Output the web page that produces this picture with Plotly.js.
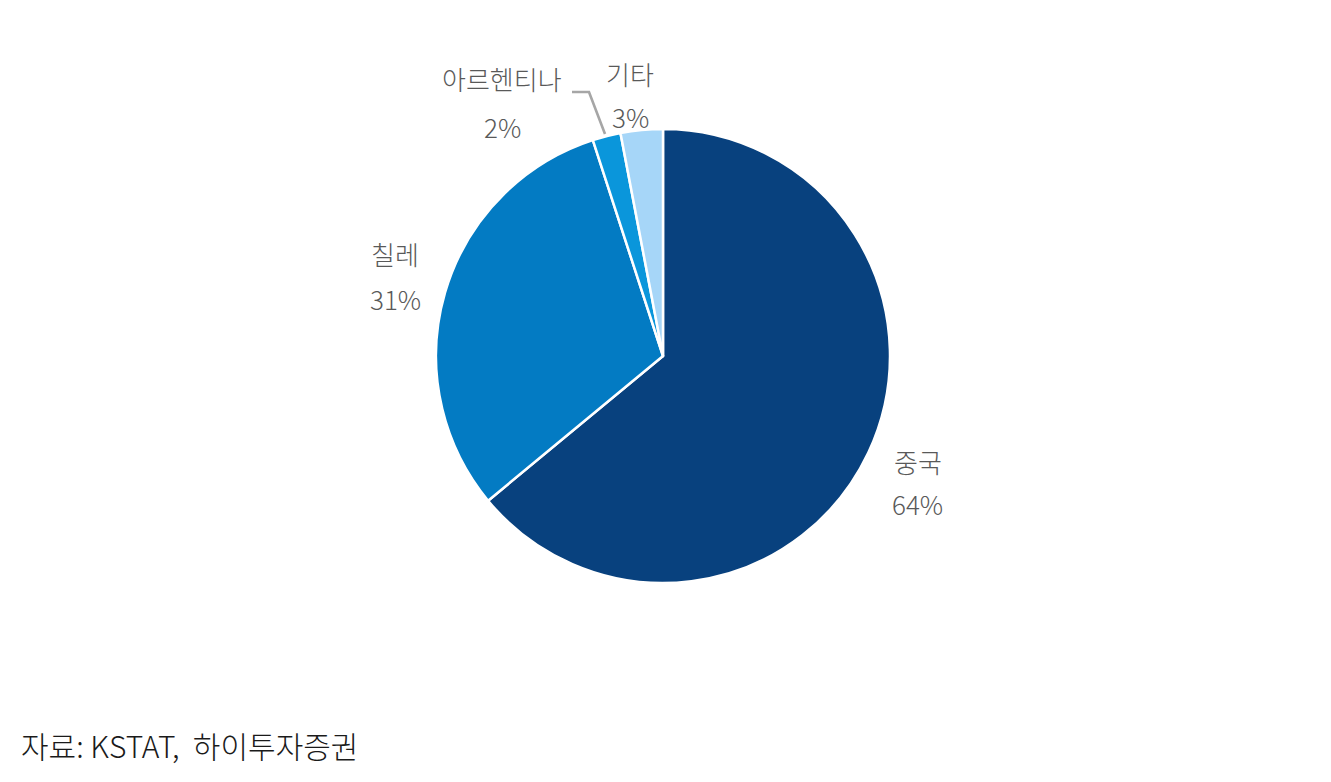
<!DOCTYPE html>
<html>
<head>
<meta charset="utf-8">
<script src="https://cdn.plot.ly/plotly-3.0.1.min.js"></script>
<style>html,body{margin:0;padding:0;background:#fff;}#chart{width:1331px;height:782px;}</style>
</head>
<body>
<div id="chart"></div>
<script>
const labels = ['중국', '칠레', '아르헨티나', '기타'];
const values = [64, 31, 2, 3];
const colors = ['#08417E', '#037BC3', '#0A96DB', '#A6D6F8'];
const source = '자료: KSTAT,  하이투자증권';

const W = 1331, H = 782;
const px = x => x / W;
const py = y => 1 - y / H;

// label anchor positions (pixels) for name and percent lines
const labelPos = [
  {name: [918, 462], pct: [918, 503]},
  {name: [395, 254], pct: [395, 298]},
  {name: [502, 78],  pct: [502, 127]},
  {name: [630, 73],  pct: [630, 117]}
];

const fam = '"Noto Sans CJK KR", "Noto Sans", sans-serif';
const font = {family: fam, size: 26, color: '#595959', weight: 300};
const annotations = [];
labels.forEach((l, i) => {
  annotations.push({x: px(labelPos[i].name[0]), y: py(labelPos[i].name[1]), xref: 'paper', yref: 'paper',
    text: l, showarrow: false, font: font, xanchor: 'center', yanchor: 'middle'});
  annotations.push({x: px(labelPos[i].pct[0]), y: py(labelPos[i].pct[1]), xref: 'paper', yref: 'paper',
    text: values[i] + '%', showarrow: false, font: font, xanchor: 'center', yanchor: 'middle'});
});
annotations.push({x: px(19), y: py(745), xref: 'paper', yref: 'paper', text: source, showarrow: false,
  xanchor: 'left', yanchor: 'middle',
  font: {family: fam, size: 30, color: '#1a1a1a', weight: 300}});

const cx = 663, cy = 356, r = 227;
const trace = {
  type: 'pie',
  labels: labels,
  values: values,
  sort: false,
  direction: 'clockwise',
  rotation: 0,
  textinfo: 'none',
  hoverinfo: 'label+percent',
  marker: {colors: colors, line: {color: '#ffffff', width: 2.5}},
  domain: {x: [px(cx - r), px(cx + r)], y: [py(cy + r), py(cy - r)]},
  showlegend: false
};

const layout = {
  width: W, height: H,
  margin: {l: 0, r: 0, t: 0, b: 0},
  paper_bgcolor: '#ffffff',
  annotations: annotations,
  shapes: [{
    type: 'path', xref: 'paper', yref: 'paper',
    path: `M ${px(605)} ${py(134)} L ${px(589)} ${py(92)} L ${px(572)} ${py(92)}`,
    line: {color: '#A6A6A6', width: 2.6}
  }]
};

Plotly.newPlot('chart', [trace], layout, {staticPlot: true});
</script>
</body>
</html>
